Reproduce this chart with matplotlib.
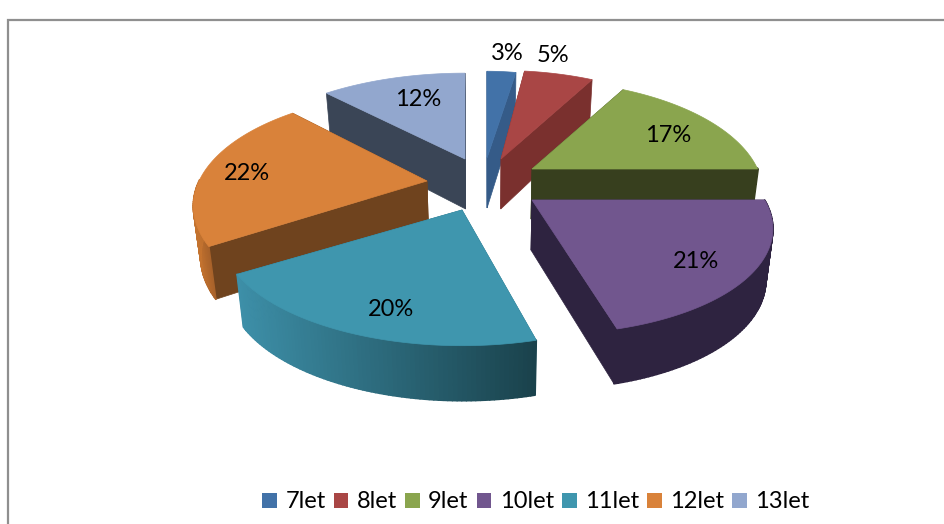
import numpy as np
import matplotlib
matplotlib.use("Agg")
import matplotlib.pyplot as plt
from matplotlib.patches import Patch, Polygon
from matplotlib.collections import PolyCollection
from matplotlib.colors import to_rgb

# data
categories = ["7let", "8let", "9let", "10let", "11let", "12let", "13let"]
values = [3, 5, 17, 21, 20, 22, 12]

# style
top_colors = ["#4272a8", "#a94645", "#8aa54e", "#71568e", "#3f96ae", "#d9823a", "#92a7ce"]
face_colors = ["#355b88", "#7a302e", "#373f1e", "#2e2340", "#2a6a7c", "#6f431e", "#3a4556"]
wall_left = ["#355b88", "#7a302e", "#373f1e", "#2e2340", "#3d8fa8", "#c4732f", "#3a4556"]
wall_right = ["#355b88", "#7a302e", "#373f1e", "#2e2340", "#1a424c", "#a8622a", "#3a4556"]
apex_px = [(487, 158), (501, 159), (532, 169), (532, 200), (462, 210), (427, 181), (465, 159)]
label_px = [(507, 54), (553, 56), (668, 135), (696, 261), (391, 309), (247, 174), (418, 99)]
draw_order = [6, 0, 1, 2, 5, 3, 4]
scale_x = [0.80, 0.96, 0.96, 0.99, 1.0, 0.97, 1.0]
scale_y = [0.98, 1.0, 1.0, 0.97, 0.98, 1.0, 0.97]
shear = [0, 0, 0, 0.09, 0, 0, 0]
start_nudge_deg = [0, -3.5, 0, 0, 0, 0, 0]

RADIUS_X, RADIUS_Y, PERSP = 235, 108, 0.22
DEPTH = 50
VANISH_X, VANISH_K = 490, 0.975
plt.rcParams["font.family"] = ["Lato", "DejaVu Sans"]


def project(i, theta):
    ux, uy = np.sin(theta), np.cos(theta)
    s = 1 + PERSP * uy
    dy = RADIUS_Y * scale_y[i] * uy / s
    dx = RADIUS_X * scale_x[i] * ux / s - shear[i] * dy
    return np.column_stack([apex_px[i][0] + dx, apex_px[i][1] - dy]), uy


def drop(p, d):
    return (VANISH_X + (p[0] - VANISH_X) * VANISH_K, p[1] + d)


fig = plt.figure(figsize=(9.45, 5.24), dpi=100, facecolor="white")
ax = fig.add_axes([0, 0, 1, 1])
ax.set_xlim(0, 945)
ax.set_ylim(524, 0)
ax.axis("off")

# frame of the chart area
ax.plot([8, 8, 945], [524, 20, 20], color="#8f8f8f", lw=1.6, solid_joinstyle="miter", zorder=0)

edges = np.cumsum([0] + values) / sum(values) * 2 * np.pi

for z, i in enumerate(draw_order):
    apex = apex_px[i]
    th = np.linspace(edges[i] + np.radians(start_nudge_deg[i]), edges[i + 1], 80)
    arc, uy = project(i, th)
    depth = DEPTH - 5 * uy
    base = 10 * z + 2
    # cut faces
    for k in (0, -1):
        quad = [apex, arc[k], drop(arc[k], depth[k]), drop(apex, DEPTH)]
        ax.add_patch(Polygon(quad, closed=True, fc=face_colors[i], ec=face_colors[i], lw=0.5, zorder=base))
    # outer wall, visible on the part of the rim facing the viewer
    keep = np.where(uy < 0.02)[0]
    if len(keep) > 1:
        quads, cols = [], []
        xr = arc[keep, 0]
        c0, c1 = np.array(to_rgb(wall_left[i])), np.array(to_rgb(wall_right[i]))
        for a, b in zip(keep[:-1], keep[1:]):
            quads.append([arc[a], arc[b], drop(arc[b], depth[b]), drop(arc[a], depth[a])])
            t = (arc[a, 0] - xr.min()) / max(np.ptp(xr), 1)
            cols.append(c0 + (c1 - c0) * t)
        ax.add_collection(PolyCollection(quads, facecolors=cols, edgecolors=cols, linewidths=1.2, zorder=base + 1))
    # top
    ax.add_patch(Polygon(np.vstack([apex, arc]), closed=True, fc=top_colors[i], ec=top_colors[i], lw=0.5, zorder=base + 2))

for v, (x, y) in zip(values, label_px):
    ax.text(x, y, f"{v}%", ha="center", va="center", fontsize=17, color="black", zorder=200)

handles = [Patch(fc=c, ec="none", label=n) for c, n in zip(top_colors, categories)]
ax.legend(handles=handles, loc="center", bbox_to_anchor=(536 / 945, 1 - 502 / 524), ncol=7, frameon=False,
          fontsize=17, handlelength=0.62, handleheight=0.62, handletextpad=0.35, columnspacing=0.35,
          borderpad=0, borderaxespad=0)

fig.savefig("out.png", dpi=100)
